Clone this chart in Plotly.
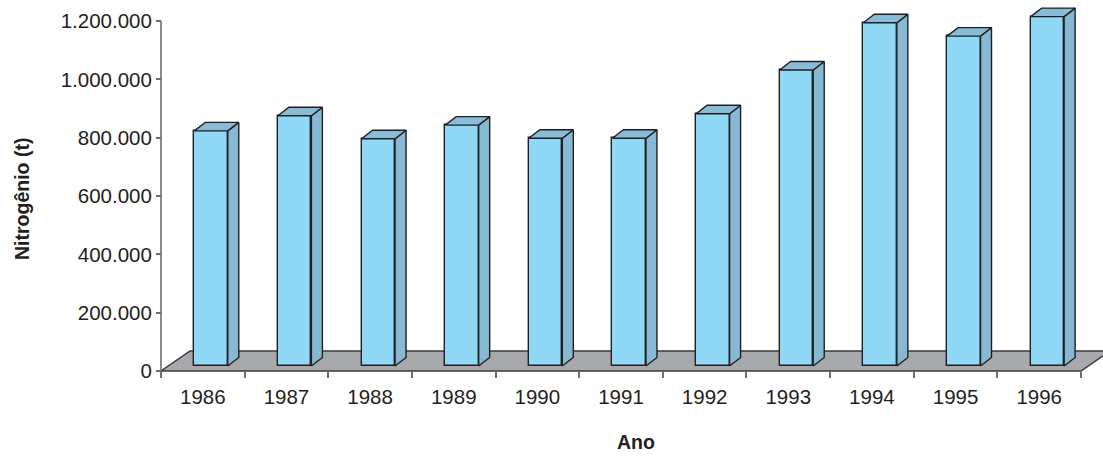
import plotly.graph_objects as go

# Nitrogen use per year (tonnes)
anos = ["1986", "1987", "1988", "1989", "1990", "1991",
        "1992", "1993", "1994", "1995", "1996"]
nitrogenio = [806000, 858000, 779000, 826000, 781000, 781000,
              865000, 1015000, 1177000, 1131000, 1198000]
y_ticks = [0, 200000, 400000, 600000, 800000, 1000000, 1200000]

# --- pixel geometry of the pseudo-3D projection --------------------------
W, H = 1103, 460
left_px, axis_x_px = 150, 161          # plot-area edge / y-axis line
top_px, bottom_px, axis_y_px = 3, 375, 371
n = len(anos)
kx = (1081 - axis_x_px) / n            # px per category
ky = (axis_y_px - 21) / y_ticks[-1]    # px per tonne

x0 = -0.5 - (axis_x_px - left_px) / kx
x1 = -0.5 + (W - axis_x_px) / kx
y0 = -(bottom_px - axis_y_px) / ky
y1 = y_ticks[-1] + (21 - top_px) / ky

floor_dx, floor_dy = 29 / kx, 20 / ky  # floor depth
bar_dx, bar_dy = 11 / kx, 8.5 / ky     # bar depth
bar_base = 5 / ky                      # bars stand inside the floor
bar_shift, bar_w = 8.2 / kx, 33.5 / kx

FRONT, SIDE, TOP = "#8fd8f6", "#86b9d3", "#89bcd6"
EDGE, FLOOR, AXIS, TXT = "#231f20", "#a7a9ac", "#6d6e71", "#231f20"
FONT = "Liberation Sans, Arial, sans-serif"

fig = go.Figure()

# side and top faces of each bar
sx, sy, tx, ty = [], [], [], []
for i, v in enumerate(nitrogenio):
    xl = i + bar_shift - bar_w / 2
    xr = i + bar_shift + bar_w / 2
    top = bar_base + v
    sx += [xr, xr + bar_dx, xr + bar_dx, xr, xr, None]
    sy += [bar_base, bar_base + bar_dy, top + bar_dy, top, bar_base, None]
    tx += [xl, xr, xr + bar_dx, xl + bar_dx, xl, None]
    ty += [top, top, top + bar_dy, top + bar_dy, top, None]

fig.add_trace(go.Scatter(x=sx, y=sy, mode="lines", fill="toself",
                         fillcolor=SIDE, line=dict(color=EDGE, width=1.4),
                         hoverinfo="skip", showlegend=False))
fig.add_trace(go.Scatter(x=tx, y=ty, mode="lines", fill="toself",
                         fillcolor=TOP, line=dict(color=EDGE, width=1.4),
                         hoverinfo="skip", showlegend=False))

# front faces
fig.add_trace(go.Bar(x=[i + bar_shift for i in range(n)], y=nitrogenio,
                     base=bar_base, width=bar_w,
                     marker=dict(color=FRONT, line=dict(color=EDGE, width=1.4)),
                     showlegend=False))

# y-axis line
fig.add_trace(go.Scatter(x=[-0.5, -0.5], y=[0, y_ticks[-1]], mode="lines",
                         line=dict(color=AXIS, width=1.6),
                         hoverinfo="skip", showlegend=False))

# floor
fx = [-0.5, n - 0.5, n - 0.5 + floor_dx, -0.5 + floor_dx]
fy = [0, 0, floor_dy, floor_dy]
path = "M " + " L ".join(f"{a},{b}" for a, b in zip(fx, fy)) + " Z"
fig.add_shape(type="path", path=path, xref="x", yref="y", layer="below",
              fillcolor=FLOOR, line=dict(color="#3a3a3c", width=1.5))

fig.update_layout(
    width=W, height=H,
    margin=dict(l=left_px, r=0, t=top_px, b=H - bottom_px),
    paper_bgcolor="white", plot_bgcolor="white",
    separators=",.",
    bargap=0,
    font=dict(family=FONT, color=TXT),
    xaxis=dict(range=[x0, x1], showgrid=False, zeroline=False, showline=False,
               anchor="free",
               position=(bottom_px - axis_y_px) / (bottom_px - top_px),
               tickmode="array", tickvals=list(range(n)), ticktext=anos,
               ticks="", ticklabelstandoff=11,
               tickfont=dict(size=20.5, color=TXT),
               minor=dict(tickmode="array",
                          tickvals=[i - 0.5 for i in range(n + 1)],
                          ticks="outside", ticklen=6, tickwidth=1.5,
                          tickcolor=AXIS, showgrid=False)),
    yaxis=dict(range=[y0, y1], showgrid=False, zeroline=False, showline=False,
               anchor="free",
               position=(axis_x_px - left_px) / (W - left_px),
               tickmode="array", tickvals=y_ticks, tickformat=",d",
               ticks="outside", ticklen=5, tickwidth=1.5, tickcolor=AXIS,
               tickfont=dict(size=20.5, color=TXT)),
    annotations=[
        dict(text="<b>Nitrogênio (t)</b>", textangle=-90, showarrow=False,
             xref="paper", yref="paper",
             x=(22 - left_px) / (W - left_px),
             y=(bottom_px - 199) / (bottom_px - top_px),
             xanchor="center", yanchor="middle",
             font=dict(size=19.5, color=TXT, family=FONT)),
        dict(text="<b>Ano</b>", showarrow=False,
             xref="paper", yref="paper",
             x=(636 - left_px) / (W - left_px),
             y=(bottom_px - 442) / (bottom_px - top_px),
             xanchor="center", yanchor="middle",
             font=dict(size=19.5, color=TXT, family=FONT)),
    ],
)

fig.write_html("out.html")
